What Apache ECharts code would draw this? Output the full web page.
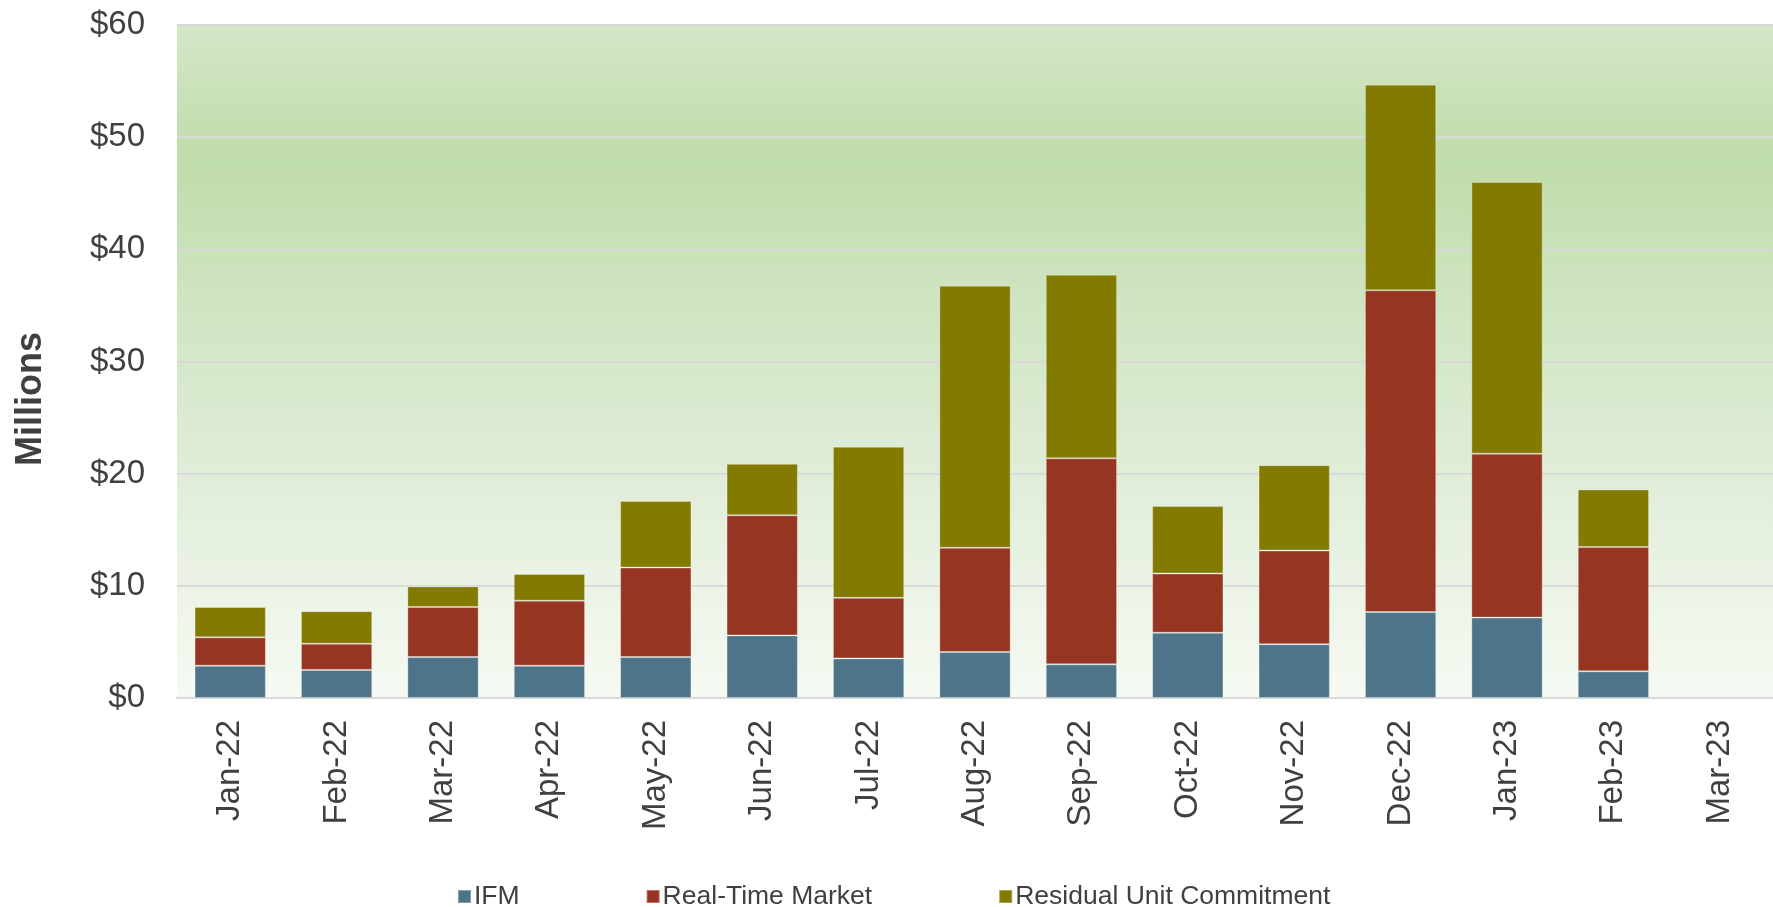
<!DOCTYPE html>
<html>
<head>
<meta charset="utf-8">
<script src="https://cdn.jsdelivr.net/npm/echarts@6/dist/echarts.min.js"></script>
<style>
html,body{margin:0;padding:0;background:#fff;}
#chart{width:1773px;height:907px;}
</style>
</head>
<body>
<div id="chart"></div>
<script>
const categories = ['Jan-22','Feb-22','Mar-22','Apr-22','May-22','Jun-22','Jul-22','Aug-22','Sep-22','Oct-22','Nov-22','Dec-22','Jan-23','Feb-23','Mar-23'];
const ifm = [2.88, 2.50, 3.65, 2.88, 3.65, 5.58, 3.53, 4.10, 3.00, 5.82, 4.80, 7.66, 7.17, 2.38, null];
const realTime = [2.53, 2.34, 4.46, 5.80, 7.98, 10.71, 5.40, 9.29, 18.37, 5.28, 8.35, 28.69, 14.61, 11.09, null];
const residual = [2.70, 2.90, 1.84, 2.38, 5.94, 4.59, 13.47, 23.37, 16.37, 6.01, 7.61, 18.33, 24.22, 5.12, null];
const yTicks = [0, 10, 20, 30, 40, 50, 60];
const seriesNames = ['IFM', 'Real-Time Market', 'Residual Unit Commitment'];
const yTitle = 'Millions';

const FONT = 'Arial, "Liberation Sans", sans-serif';
const chart = echarts.init(document.getElementById('chart'));
const colors = ['#4E7489', '#963522', '#837A02'];
const dataSets = [ifm, realTime, residual];

chart.setOption({
  animation: false,
  color: colors,
  textStyle: { fontFamily: FONT },
  grid: {
    left: 177, right: 0, top: 25, bottom: 209,
    show: true,
    borderWidth: 0,
    backgroundColor: new echarts.graphic.LinearGradient(0, 0, 0, 1, [
      { offset: 0, color: '#d4e7c8' },
      { offset: 0.2, color: '#bfdcab' },
      { offset: 0.45, color: '#d2e6c5' },
      { offset: 0.7, color: '#e2eedb' },
      { offset: 1, color: '#f6faf3' }
    ])
  },
  legend: {
    left: 452, top: 878,
    itemWidth: 13, itemHeight: 13, itemGap: 126,
    icon: 'rect',
    textStyle: { fontSize: 26.5, color: '#404040', fontFamily: FONT, padding: [0, 0, 0, -2] },
    data: seriesNames
  },
  xAxis: {
    type: 'category',
    data: categories,
    axisLine: { show: true, lineStyle: { color: '#d9d9d9', width: 2 } },
    axisTick: { show: false },
    axisLabel: { rotate: 90, fontSize: 33, color: '#404040', margin: 22, fontFamily: FONT }
  },
  yAxis: {
    type: 'value',
    min: yTicks[0], max: yTicks[yTicks.length - 1], interval: 10,
    axisLine: { show: false },
    axisTick: { show: false },
    splitLine: { show: true, lineStyle: { color: '#d9d9d9', width: 2 } },
    axisLabel: { fontSize: 33, color: '#404040', margin: 32, fontFamily: FONT, formatter: v => '$' + v }
  },
  graphic: [{
    type: 'text',
    x: 31, y: 399,
    rotation: Math.PI / 2,
    style: {
      text: yTitle, fontSize: 36, fontWeight: 'bold', fill: '#404040',
      fontFamily: FONT, align: 'center', verticalAlign: 'middle'
    }
  }],
  series: seriesNames.map((name, i) => ({
    name: name,
    type: 'bar',
    stack: 'total',
    barCategoryGap: '33%',
    data: dataSets[i],
    itemStyle: { color: colors[i], borderColor: 'rgba(255,255,255,0.3)', borderWidth: 1 }
  }))
});
</script>
</body>
</html>
